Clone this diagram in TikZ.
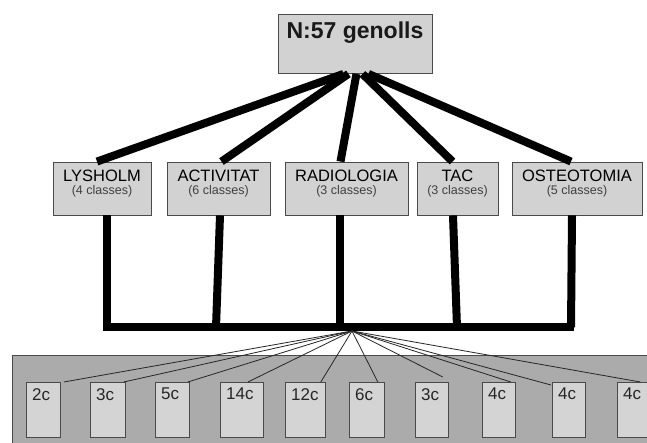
\documentclass[tikz,border=0pt]{standalone}
\usepackage{fontspec}
\setmainfont{Liberation Sans}
\usetikzlibrary{calc}
\definecolor{boxgray}{HTML}{D2D2D2}
\definecolor{bandgray}{HTML}{ABABAB}
\definecolor{edgegray}{HTML}{4A4A4A}
\tikzset{
  topbox/.style={draw=edgegray, fill=boxgray, line width=0.9pt, minimum width=154pt, minimum height=59pt, inner sep=0pt},
  catbox/.style={draw=edgegray, fill=boxgray, line width=0.9pt, minimum height=53pt, inner sep=0pt, align=center},
  cbox/.style={draw=edgegray, fill=boxgray!95!white, line width=0.8pt, minimum height=55pt, inner sep=0pt},
  clabel/.style={font=\fontsize{17}{19}\selectfont, text=black!85},
  thick link/.style={line width=8pt, black},
  fan/.style={line width=0.8pt, black!85},
}
\newcommand{\cattext}[2]{{\fontsize{16.5}{18}\selectfont #1}\\[1pt]{\fontsize{12.5}{14}\selectfont\color{black!75}(#2)}}
\begin{document}
\begin{tikzpicture}[x=1pt, y=-1pt]
\useasboundingbox (0,0) rectangle (647,443);
\clip (0,0) rectangle (647,443);
\fill[white] (0,0) rectangle (647,443);

% root node
\node[topbox, anchor=north west, minimum width=154pt] (top) at (278,14) {};
\node[font=\fontsize{23}{25}\selectfont\bfseries, text=black!90] (toptext) at (355,33) {N:57 genolls};

% category nodes
\node[catbox, minimum width=98pt]  (lys) at (102,188.5) {};
\node[catbox, minimum width=103pt] (act) at (218.5,188.5) {};
\node[catbox, minimum width=123pt] (rad) at (346.5,188.5) {};
\node[catbox, minimum width=81pt]  (tac) at (457.5,188.5) {};
\node[catbox, minimum width=130pt] (ost) at (577,188.5) {};
\node[align=center, inner sep=0pt] (lyst) at (102,184) {\cattext{LYSHOLM}{4 classes}};
\node[align=center, inner sep=0pt] (actt) at (218.5,184) {\cattext{ACTIVITAT}{6 classes}};
\node[align=center, inner sep=0pt] (radt) at (346.5,184) {\cattext{RADIOLOGIA}{3 classes}};
\node[align=center, inner sep=0pt] (tact) at (457.5,184) {\cattext{TAC}{3 classes}};
\node[align=center, inner sep=0pt] (ostt) at (577,184) {\cattext{OSTEOTOMIA}{5 classes}};

% thick links from the root to each category
\draw[thick link] ($(top.south)+(-12,0)$) -- ($(lys.north)+(-5,0)$);
\draw[thick link] ($(top.south)+(-7,0)$) -- ($(act.north)+(3,0)$);
\draw[thick link] ($(top.south)+(1,0)$) -- ($(rad.north)+(-6,0)$);
\draw[thick link] ($(top.south)+(7,0)$) -- ($(tac.north)+(-5,0)$);
\draw[thick link] ($(top.south)+(13,0)$) -- ($(ost.north)+(-6,0)$);

% collecting bar under the categories
\coordinate (barL) at (103,327);
\coordinate (barR) at (574,327);
\draw[thick link] (barL) -- (barR);
\draw[thick link] ($(lys.south)+(5,0)$) -- ($(lys.south)+(5,112)$);
\draw[thick link] ($(act.south)+(1.5,0)$) -- ($(act.south)+(-2.5,112)$);
\draw[thick link] ($(rad.south)+(-6.5,0)$) -- ($(rad.south)+(-6.5,112)$);
\draw[thick link] ($(tac.south)+(-4.5,0)$) -- ($(tac.south)+(-0.5,112)$);
\draw[thick link] ($(ost.south)+(-5,0)$) -- ($(ost.south)+(-6,112)$);

% band holding the class counts
\node[draw=edgegray, fill=bandgray, line width=0.9pt, anchor=north west, minimum width=650pt, minimum height=95pt, inner sep=0pt] (band) at (12,355) {};

% class count nodes
\foreach \nm/\xa/\xb/\txt in {c1/26/60/2c, c2/90/125/3c, c3/155/189/5c, c4/220/263/14c, c5/285/325/12c, c6/349/384/6c, c7/415/448/3c, c8/482/515/4c, c9/552/585/4c, c10/617/651/4c}{
  \node[cbox, anchor=north west, minimum width={\xb-\xa}] (\nm) at (\xa,382) {};
  \node[clabel, anchor=north west, inner sep=0pt] (\nm t) at (\xa+6,388) {\txt};
}

% fan of thin links from the bar to the counts
\coordinate (hub) at (352,331);
\draw[fan] (hub) -- ($(c1.north east)+(3,0)$);
\draw[fan] (hub) -- ($(c2.north east)+(-2,0)$);
\draw[fan] (hub) -- ($(c3.north east)+(-2,0)$);
\draw[fan] (hub) -- ($(c4.north)+(6,0)$);
\draw[fan] (hub) -- ($(c5.north east)+(-5,0)$);
\draw[fan] (hub) -- ($(c6.north east)+(-7,0)$);
\draw[fan] (hub) -- ($(c7.north east)+(-6,-5)$);
\draw[fan] (hub) -- ($(c8.north east)+(-5,0)$);
\draw[fan] (hub) -- ($(c9.north west)+(-1,3)$);
\draw[fan] (hub) -- ($(c10.north)+(6,0)$);
\end{tikzpicture}
\end{document}
